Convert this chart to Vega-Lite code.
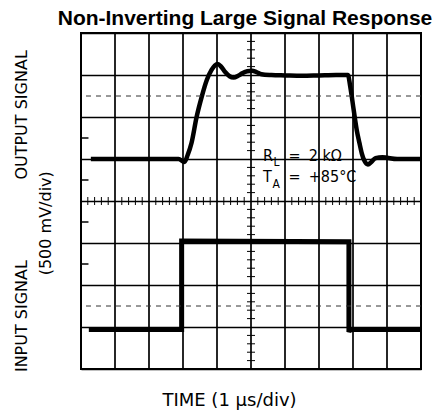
{
  "$schema": "https://vega.github.io/schema/vega-lite/v6.json",
  "width": 340,
  "height": 336,
  "autosize": "none",
  "padding": {"left": 81, "top": 33, "right": 19, "bottom": 47},
  "background": "#ffffff",
  "title": {
    "text": "Non-Inverting Large Signal Response",
    "font": "Liberation Sans",
    "fontSize": 21,
    "fontWeight": "bold",
    "color": "#000000",
    "anchor": "middle",
    "offset": 3,
    "dx": -6
  },
  "config": {
    "view": {"stroke": "#000000", "strokeWidth": 2}
  },
  "datasets": {
    "output": [
      {"i": 0, "u": 0.29, "v": 5.0},
      {"i": 1, "u": 2.87, "v": 5.0},
      {"i": 2, "u": 3.04, "v": 4.93},
      {"i": 3, "u": 3.14, "v": 5.1},
      {"i": 4, "u": 3.25, "v": 5.38},
      {"i": 5, "u": 3.4, "v": 6.0},
      {"i": 6, "u": 3.55, "v": 6.48},
      {"i": 7, "u": 3.7, "v": 6.88},
      {"i": 8, "u": 3.84, "v": 7.12},
      {"i": 9, "u": 3.94, "v": 7.23},
      {"i": 10, "u": 4.02, "v": 7.26},
      {"i": 11, "u": 4.12, "v": 7.2},
      {"i": 12, "u": 4.24, "v": 7.07},
      {"i": 13, "u": 4.37, "v": 6.97},
      {"i": 14, "u": 4.49, "v": 6.94},
      {"i": 15, "u": 4.62, "v": 6.98},
      {"i": 16, "u": 4.74, "v": 7.04},
      {"i": 17, "u": 4.89, "v": 7.09},
      {"i": 18, "u": 5.03, "v": 7.1},
      {"i": 19, "u": 5.16, "v": 7.07},
      {"i": 20, "u": 5.31, "v": 7.02},
      {"i": 21, "u": 5.6, "v": 7.0},
      {"i": 22, "u": 6.0, "v": 6.99},
      {"i": 23, "u": 6.5, "v": 6.98},
      {"i": 24, "u": 7.0, "v": 6.99},
      {"i": 25, "u": 7.5, "v": 7.0},
      {"i": 26, "u": 7.85, "v": 7.0},
      {"i": 27, "u": 7.92, "v": 6.72},
      {"i": 28, "u": 8.02, "v": 6.17},
      {"i": 29, "u": 8.11, "v": 5.69},
      {"i": 30, "u": 8.19, "v": 5.38},
      {"i": 31, "u": 8.26, "v": 5.13},
      {"i": 32, "u": 8.34, "v": 4.95},
      {"i": 33, "u": 8.44, "v": 4.87},
      {"i": 34, "u": 8.54, "v": 4.93},
      {"i": 35, "u": 8.66, "v": 5.02},
      {"i": 36, "u": 8.87, "v": 5.04},
      {"i": 37, "u": 9.3, "v": 5.0},
      {"i": 38, "u": 10.0, "v": 5.0}
    ],
    "input": [
      {"i": 0, "u": 0.23, "v": 0.94},
      {"i": 1, "u": 2.96, "v": 0.94},
      {"i": 2, "u": 2.96, "v": 3.05},
      {"i": 3, "u": 7.88, "v": 3.03},
      {"i": 4, "u": 7.88, "v": 0.88},
      {"i": 5, "u": 7.91, "v": 0.94},
      {"i": 6, "u": 10.0, "v": 0.94}
    ],
    "vgrid": [{"u": 1}, {"u": 2}, {"u": 3}, {"u": 4}, {"u": 5}, {"u": 6}, {"u": 7}, {"u": 8}, {"u": 9}],
    "dashed": [{"v": 6.5}, {"v": 1.5}],
    "vticks": [
      {"v": 0.2}, {"v": 0.4}, {"v": 0.6}, {"v": 0.8}, {"v": 1.2}, {"v": 1.4}, {"v": 1.6}, {"v": 1.8},
      {"v": 2.2}, {"v": 2.4}, {"v": 2.6}, {"v": 2.8}, {"v": 3.2}, {"v": 3.4}, {"v": 3.6}, {"v": 3.8},
      {"v": 4.2}, {"v": 4.4}, {"v": 4.6}, {"v": 4.8}, {"v": 5.2}, {"v": 5.4}, {"v": 5.6}, {"v": 5.8},
      {"v": 6.2}, {"v": 6.4}, {"v": 6.6}, {"v": 6.8}, {"v": 7.2}, {"v": 7.4}, {"v": 7.6}, {"v": 7.8}
    ],
    "hticks": [
      {"u": 0.2}, {"u": 0.4}, {"u": 0.6}, {"u": 0.8}, {"u": 1.2}, {"u": 1.4}, {"u": 1.6}, {"u": 1.8},
      {"u": 2.2}, {"u": 2.4}, {"u": 2.6}, {"u": 2.8}, {"u": 3.2}, {"u": 3.4}, {"u": 3.6}, {"u": 3.8},
      {"u": 4.2}, {"u": 4.4}, {"u": 4.6}, {"u": 4.8}, {"u": 5.2}, {"u": 5.4}, {"u": 5.6}, {"u": 5.8},
      {"u": 6.2}, {"u": 6.4}, {"u": 6.6}, {"u": 6.8}, {"u": 7.2}, {"u": 7.4}, {"u": 7.6}, {"u": 7.8},
      {"u": 8.2}, {"u": 8.4}, {"u": 8.6}, {"u": 8.8}, {"u": 9.2}, {"u": 9.4}, {"u": 9.6}, {"u": 9.8}
    ],
    "edgeticks": [{"v": 2.5}, {"v": 3.5}, {"v": 4.5}, {"v": 5.5}],
    "notes": [
      {"text": "R", "u": 5.35, "v": 4.96},
      {"text": "=", "u": 6.1, "v": 4.96},
      {"text": "2 kΩ", "u": 6.7, "v": 4.96},
      {"text": "T", "u": 5.35, "v": 4.45},
      {"text": "=", "u": 6.1, "v": 4.45},
      {"text": "+85°C", "u": 6.7, "v": 4.45}
    ],
    "subs": [
      {"text": "L", "u": 5.66, "v": 4.83},
      {"text": "A", "u": 5.63, "v": 4.31}
    ],
    "sidelabels": [
      {"text": "OUTPUT SIGNAL", "u": -1.74, "v": 6.05},
      {"text": "(500 mV/div)", "u": -1.03, "v": 3.47},
      {"text": "INPUT SIGNAL", "u": -1.74, "v": 1.26}
    ]
  },
  "layer": [
    {
      "data": {"name": "vgrid"},
      "mark": {"type": "rule", "color": "#000000", "strokeWidth": 1.7},
      "encoding": {
        "x": {
          "field": "u", "type": "quantitative",
          "scale": {"domain": [0, 10], "nice": false, "zero": false},
          "axis": {
            "values": [0, 5, 10],
            "grid": false,
            "labels": false, "ticks": false, "domain": false,
            "title": "TIME (1 μs/div)",
            "titleFont": "DejaVu Sans",
            "titleFontSize": 18, "titleFontWeight": "normal", "titleColor": "#000000",
            "titlePadding": 22,
            "titleX": 148
          }
        }
      }
    },
    {
      "data": {"name": "output"},
      "mark": {"type": "line", "color": "#000000", "strokeWidth": 4.5, "interpolate": "monotone", "strokeCap": "butt"},
      "encoding": {
        "x": {"field": "u", "type": "quantitative"},
        "y": {
          "field": "v", "type": "quantitative",
          "scale": {"domain": [0, 8], "nice": false, "zero": false},
          "axis": {
            "values": [0, 1, 2, 3, 4, 5, 6, 7, 8],
            "grid": true, "gridColor": "#000000", "gridWidth": 1.5, "gridOpacity": 1,
            "labels": false, "ticks": false, "domain": false, "title": null
          }
        },
        "order": {"field": "i"}
      }
    },
    {
      "data": {"name": "input"},
      "mark": {"type": "line", "color": "#000000", "strokeWidth": 5, "strokeCap": "butt", "strokeJoin": "miter"},
      "encoding": {
        "x": {"field": "u", "type": "quantitative"},
        "y": {"field": "v", "type": "quantitative"},
        "order": {"field": "i"}
      }
    },
    {
      "data": {"name": "dashed"},
      "mark": {"type": "rule", "color": "#333333", "strokeWidth": 1, "strokeDash": [5, 5]},
      "encoding": {"y": {"field": "v", "type": "quantitative"}}
    },
    {
      "data": {"name": "vticks"},
      "mark": {"type": "tick", "orient": "horizontal", "size": 8, "thickness": 1, "color": "#000000", "opacity": 1},
      "encoding": {
        "x": {"datum": 5, "type": "quantitative"},
        "y": {"field": "v", "type": "quantitative"}
      }
    },
    {
      "data": {"name": "hticks"},
      "mark": {"type": "tick", "orient": "vertical", "size": 8, "thickness": 1, "color": "#000000", "opacity": 1},
      "encoding": {
        "x": {"field": "u", "type": "quantitative"},
        "y": {"datum": 4, "type": "quantitative"}
      }
    },
    {
      "data": {"name": "edgeticks"},
      "mark": {"type": "rule", "color": "#000000", "strokeWidth": 1.5},
      "encoding": {
        "x": {"datum": 0, "type": "quantitative"},
        "x2": {"datum": 0.22},
        "y": {"field": "v", "type": "quantitative"}
      }
    },
    {
      "data": {"name": "notes"},
      "mark": {"type": "text", "align": "left", "baseline": "alphabetic", "font": "DejaVu Sans Condensed, DejaVu Sans", "fontSize": 16, "color": "#000000"},
      "encoding": {
        "x": {"field": "u", "type": "quantitative"},
        "y": {"field": "v", "type": "quantitative"},
        "text": {"field": "text"}
      }
    },
    {
      "data": {"name": "subs"},
      "mark": {"type": "text", "align": "left", "baseline": "alphabetic", "font": "DejaVu Sans Condensed, DejaVu Sans", "fontSize": 12, "color": "#000000"},
      "encoding": {
        "x": {"field": "u", "type": "quantitative"},
        "y": {"field": "v", "type": "quantitative"},
        "text": {"field": "text"}
      }
    },
    {
      "data": {"name": "sidelabels"},
      "mark": {"type": "text", "align": "center", "baseline": "middle", "angle": 270, "font": "DejaVu Sans", "fontSize": 16, "color": "#000000"},
      "encoding": {
        "x": {"field": "u", "type": "quantitative"},
        "y": {"field": "v", "type": "quantitative"},
        "text": {"field": "text"}
      }
    }
  ]
}
